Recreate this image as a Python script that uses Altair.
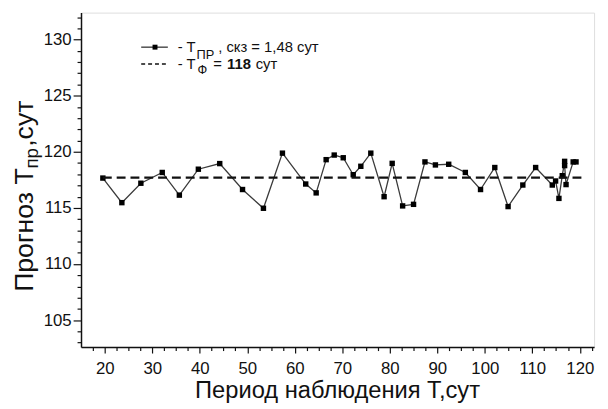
import altair as alt
import pandas as pd

# ---- data ----
period = [19.6, 23.6, 27.6, 32.1, 35.7, 39.7, 44.2, 49.0, 53.4, 57.4,
          62.3, 64.5, 66.6, 68.3, 70.2, 72.3, 73.9, 76.0, 78.8, 80.5,
          82.7, 85.0, 87.4, 89.6, 92.4, 95.9, 99.1, 102.1, 104.9, 108.0,
          110.7, 114.2, 114.9, 115.6, 116.3, 116.8, 116.8, 117.1, 118.6, 119.2]
forecast = [117.66, 115.47, 117.2, 118.16, 116.14, 118.45, 118.95, 116.64, 114.97, 119.88,
            117.13, 116.34, 119.3, 119.71, 119.47, 117.96, 118.71, 119.88, 116.0, 118.97,
            115.18, 115.32, 119.1, 118.83, 118.89, 118.16, 116.64, 118.6, 115.12, 117.04,
            118.6, 117.04, 117.4, 115.85, 117.87, 119.15, 118.77, 117.08, 119.1, 119.1]
fact_x = [19.6, 121.0]
fact_value = 117.7

x_major = [20, 30, 40, 50, 60, 70, 80, 90, 100, 110, 120]
x_minor = [v / 2 for v in range(35, 247, 5) if v % 20 != 0]
y_major = [105, 110, 115, 120, 125, 130]
y_minor = [v for v in range(103, 133) if v % 5 != 0]

x_domain = [15, 123]
y_domain = [102.6, 132.4]

FONT = "Liberation Sans"
W, H = 520, 339

df = pd.DataFrame({"T": period, "P": forecast, "order": list(range(len(period)))})
ref = pd.DataFrame({"T": fact_x, "P": [fact_value] * len(fact_x)})

xs = alt.Scale(domain=x_domain, nice=False, zero=False)
ys = alt.Scale(domain=y_domain, nice=False, zero=False)

axis_common = dict(grid=False, domainColor="#111", tickColor="#111", domainWidth=1.5,
                   tickWidth=1.2, labelFont=FONT, labelFontSize=17, labelColor="#111",
                   title=None)

x_major_axis = alt.Axis(values=x_major, orient="bottom", tickSize=6, labelPadding=21,
                        labelBaseline="alphabetic", format="d", **axis_common)
y_major_axis = alt.Axis(values=y_major, orient="left", tickSize=8, labelPadding=2,
                        format="d", **axis_common)
x_minor_axis = alt.Axis(values=x_minor, orient="bottom", tickSize=3.5, labels=False,
                        domain=False, grid=False, tickColor="#111", tickWidth=1.2, title=None)
y_minor_axis = alt.Axis(values=y_minor, orient="left", tickSize=4, labels=False,
                        domain=False, grid=False, tickColor="#111", tickWidth=1.2, title=None)

line = alt.Chart(df).mark_line(color="#3a3a3a", strokeWidth=1.3).encode(
    x=alt.X("T:Q", scale=xs, axis=x_major_axis),
    y=alt.Y("P:Q", scale=ys, axis=y_major_axis),
    order="order:Q",
)
pts = alt.Chart(df).mark_point(shape="square", filled=True, color="#000", size=30, opacity=1).encode(
    x=alt.X("T:Q", scale=xs, axis=None),
    y=alt.Y("P:Q", scale=ys, axis=None),
)
dashed = alt.Chart(ref).mark_line(color="#111", strokeWidth=2.2, strokeDash=[9, 5]).encode(
    x=alt.X("T:Q", scale=xs, axis=x_minor_axis),
    y=alt.Y("P:Q", scale=ys, axis=y_minor_axis),
)

# ---- legend (drawn by hand to allow subscripts) ----
def txt(s, x, y, size, angle=0, weight="normal", align="left"):
    return alt.Chart(pd.DataFrame({"t": [s]})).mark_text(
        font=FONT, fontSize=size, fontWeight=weight, align=align, baseline="alphabetic",
        color="#111", angle=angle
    ).encode(text="t:N", x=alt.value(x), y=alt.value(y))

leg_line = alt.Chart(pd.DataFrame({"a": [0]})).mark_rule(color="#333", strokeWidth=1.3).encode(
    x=alt.value(61), x2=alt.value(88), y=alt.value(35))
leg_pt = alt.Chart(pd.DataFrame({"a": [0]})).mark_point(
    shape="square", filled=True, color="#000", size=25, opacity=1).encode(
    x=alt.value(75), y=alt.value(35))
leg_dash = alt.Chart(pd.DataFrame({"a": [0]})).mark_rule(
    color="#111", strokeWidth=1.5, strokeDash=[4, 3]).encode(
    x=alt.value(61), x2=alt.value(88), y=alt.value(52))

legend = [
    leg_line, leg_pt, leg_dash,
    txt("- T", 98, 40, 15), txt("ПР", 117, 47, 13), txt(", скз = 1,48 сут", 139, 40, 15),
    txt("- T", 98, 57, 15), txt("Ф", 118, 62, 13), txt("=", 134, 57, 15),
    txt("118", 148, 57, 15, weight="bold"), txt("сут", 177, 57, 15),
]

# ---- axis titles ----
titles = [
    txt("Период наблюдения Т,сут", W / 2, 391, 24, align="center"),
    txt("Прогноз Т", -49, 283, 27, angle=270),
    txt("пр", -44, 158, 19, angle=270),
    txt(",сут", -49, 136, 27, angle=270),
]

chart = alt.layer(line, pts, dashed, *legend, *titles).resolve_axis(
    x="independent", y="independent"
).properties(
    width=W, height=H,
    autosize=alt.AutoSizeParams(type="none"),
    padding={"left": 74, "top": 2, "right": 6, "bottom": 57},
).configure_view(stroke=None).configure(background="white")

chart.save("out.html", embed_options={"renderer": "svg", "actions": False})
